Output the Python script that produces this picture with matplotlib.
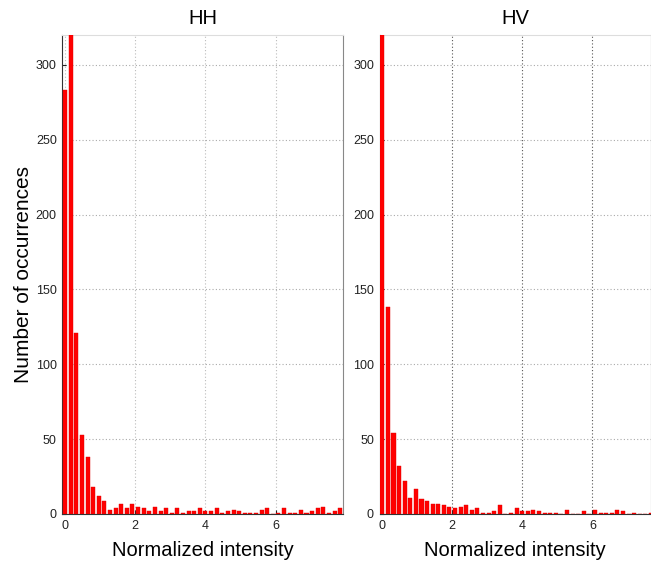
import matplotlib
matplotlib.use("Agg")
import matplotlib.pyplot as plt
import numpy as np

plt.rcParams['font.family'] = ['Liberation Sans', 'DejaVu Sans']

# Histogram data (50 bins, normalized intensity)
bin_width = 0.1595
first_center = 0.015
hh_counts = [283, 350, 121, 53, 38, 18, 12, 9, 3, 4,
             7, 4, 7, 5, 4, 2, 5, 2, 4, 1,
             4, 1, 2, 2, 4, 2, 2, 4, 1, 2,
             3, 2, 1, 1, 1, 3, 4, 0, 1, 4,
             1, 1, 3, 1, 2, 4, 5, 1, 2, 4]
hv_counts = [500, 138, 54, 32, 22, 11, 17, 10, 9, 7,
             7, 6, 5, 4, 5, 6, 3, 4, 1, 1,
             2, 6, 0, 1, 4, 2, 2, 3, 2, 1,
             1, 1, 0, 3, 0, 0, 2, 0, 3, 1,
             1, 1, 3, 2, 0, 1, 0, 0, 1, 0]
titles = ["HH", "HV"]
x_ticks = [0, 2, 4, 6]
y_ticks = [0, 50, 100, 150, 200, 250, 300]
xlabel = "Normalized intensity"
ylabel = "Number of occurrences"

W, H = 651, 565
fig = plt.figure(figsize=(W / 100, H / 100), dpi=100)

bottom = (H - 514) / H
top = (H - 35) / H
ax1 = fig.add_axes([62.3 / W, bottom, 280.7 / W, top - bottom])
ax2 = fig.add_axes([379.5 / W, bottom, (W - 379.5) / W, top - bottom])

xl_left = first_center - bin_width / 2
xlims = [(xl_left, xl_left + 50 * bin_width), (xl_left, 7.67)]

for ax, counts, title, xlim, vgrid in zip([ax1, ax2], [hh_counts, hv_counts], titles, xlims,
                                          ['#bbbbbb', '#555555']):
    centers = first_center + bin_width * np.arange(len(counts))
    ax.bar(centers, counts, width=bin_width * 0.72, color='#ff0000',
           edgecolor='#e00000', linewidth=0.3, zorder=3)
    ax.set_xlim(*xlim)
    ax.set_ylim(0, 320)
    ax.set_xticks(x_ticks)
    ax.set_yticks(y_ticks)
    ax.tick_params(direction='in', length=3, labelsize=9, pad=4, colors='#222222')
    ax.yaxis.grid(True, linestyle=(0, (1, 2)), color='#aaaaaa', linewidth=0.8)
    ax.xaxis.grid(True, linestyle=(0, (1, 2)), color=vgrid, linewidth=0.8)
    ax.set_axisbelow(True)
    ax.set_title(title, fontsize=14.5, pad=8)
    ax.set_xlabel(xlabel, fontsize=14.5, labelpad=7)
    ax.spines['left'].set_color('#333333')
    ax.spines['bottom'].set_color('#333333')
    ax.spines['top'].set_color('#dddddd')
    ax.spines['right'].set_color('#888888')

ax1.set_ylabel(ylabel, fontsize=15, labelpad=2)

fig.savefig("out.png", dpi=100)
